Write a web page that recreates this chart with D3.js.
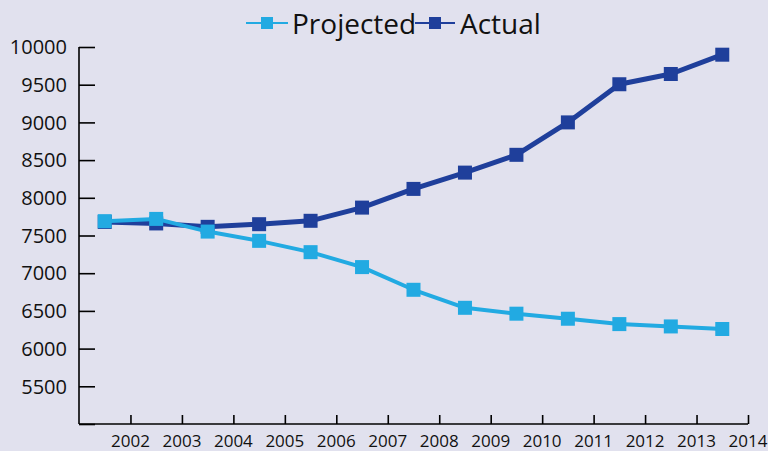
<!DOCTYPE html>
<html lang="en">
<head>
	<meta charset="UTF-8">
	<title>Projected vs Actual</title>
	<style>
		html, body { margin: 0; padding: 0; background: #e1e1ee; }
		svg { display: block; font-family: "Open Sans", "DejaVu Sans", sans-serif; }
	</style>
</head>
<body>
<script src="https://cdnjs.cloudflare.com/ajax/libs/d3/7.8.5/d3.min.js"></script>
<script>
	// data (points sit mid-year)
	var years = [2001.5, 2002.5, 2003.5, 2004.5, 2005.5, 2006.5, 2007.5, 2008.5, 2009.5, 2010.5, 2011.5, 2012.5, 2013.5];
	var actual = [7680, 7660, 7615, 7650, 7695, 7870, 8118, 8334, 8570, 9000, 9506, 9642, 9898];
	var projected = [7690, 7720, 7552, 7429, 7279, 7081, 6780, 6541, 6463, 6396, 6325, 6294, 6260];
	var xTicks = [2002, 2003, 2004, 2005, 2006, 2007, 2008, 2009, 2010, 2011, 2012, 2013, 2014];
	var yTicks = [5000, 5500, 6000, 6500, 7000, 7500, 8000, 8500, 9000, 9500, 10000];
	var seriesNames = ['Projected', 'Actual'];

	var width = 768, height = 451;
	var pad = { left: 79, right: 748, top: 47, bottom: 424 };
	var colActual = '#1f3f9b', colProj = '#22aae2';

	var svg = d3.select('body').append('svg')
		.attr('width', width)
		.attr('height', height);

	var xScale = d3.scaleLinear().domain([2001, 2014]).range([pad.left, pad.right]);
	var yScale = d3.scaleLinear().domain([5000, 10000]).range([pad.bottom, pad.top]);

	// y axis: ticks point right, labels on the left
	var yAxis = d3.axisRight(yScale).tickValues(yTicks).tickSize(16).tickFormat('');
	var gy = svg.append('g')
		.attr('transform', 'translate(' + pad.left + ',0)')
		.call(yAxis);
	gy.select('.domain').attr('d', 'M0,' + pad.top + 'V' + pad.bottom).attr('stroke-width', 1.6);
	gy.selectAll('line').attr('stroke-width', 1.6);

	svg.append('g').selectAll('text')
		.data(yTicks.filter(function(d) { return d > 5000; }))
		.enter().append('text')
		.attr('x', 67)
		.attr('y', function(d) { return yScale(d); })
		.attr('dy', '0.36em')
		.attr('text-anchor', 'end')
		.attr('font-size', 20)
		.attr('fill', '#111')
		.text(function(d) { return d; });

	// x axis: ticks point up, labels below
	var xAxis = d3.axisTop(xScale).tickValues(xTicks).tickSize(9).tickFormat('');
	var gx = svg.append('g')
		.attr('transform', 'translate(0,' + pad.bottom + ')')
		.call(xAxis);
	gx.select('.domain').attr('d', 'M' + pad.left + ',0H' + pad.right).attr('stroke-width', 1.6);
	gx.selectAll('line').attr('stroke-width', 1.6);

	svg.append('g').selectAll('text')
		.data(xTicks)
		.enter().append('text')
		.attr('x', function(d) { return xScale(d); })
		.attr('y', 447)
		.attr('text-anchor', 'middle')
		.attr('font-size', 17)
		.attr('fill', '#111')
		.text(function(d) { return d; });

	function drawSeries(values, color, lw, size) {
		var pts = years.map(function(y, i) { return [y, values[i]]; });
		var line = d3.line()
			.x(function(d) { return xScale(d[0]); })
			.y(function(d) { return yScale(d[1]); });
		svg.append('path')
			.datum(pts)
			.attr('fill', 'none')
			.attr('stroke', color)
			.attr('stroke-width', lw)
			.attr('stroke-linejoin', 'round')
			.attr('d', line);
		svg.append('g').selectAll('rect')
			.data(pts)
			.enter().append('rect')
			.attr('x', function(d) { return xScale(d[0]) - size / 2; })
			.attr('y', function(d) { return yScale(d[1]) - size / 2; })
			.attr('width', size)
			.attr('height', size)
			.attr('fill', color);
	}

	drawSeries(actual, colActual, 5, 14);
	drawSeries(projected, colProj, 4, 14);

	// legend
	var legend = [
		{ name: seriesNames[0], color: colProj, x1: 246, x2: 288, tx: 292 },
		{ name: seriesNames[1], color: colActual, x1: 415, x2: 455, tx: 460 }
	];
	var lg = svg.append('g');
	legend.forEach(function(d) {
		lg.append('line')
			.attr('x1', d.x1).attr('x2', d.x2)
			.attr('y1', 23).attr('y2', 23)
			.attr('stroke', d.color).attr('stroke-width', 2);
		lg.append('rect')
			.attr('x', (d.x1 + d.x2) / 2 - 6).attr('y', 17)
			.attr('width', 12).attr('height', 12)
			.attr('fill', d.color);
		lg.append('text')
			.attr('x', d.tx).attr('y', 34)
			.attr('font-size', 28)
			.attr('fill', '#111')
			.text(d.name);
	});
</script>
</body>
</html>
